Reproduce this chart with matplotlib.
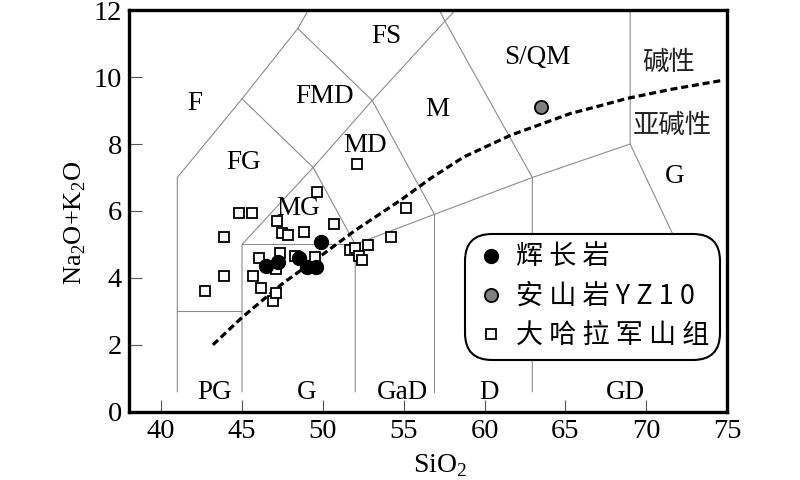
import matplotlib
matplotlib.use("Agg")
import matplotlib.pyplot as plt
from matplotlib.lines import Line2D

plt.rcParams['font.family'] = ['Liberation Serif', 'Noto Sans CJK SC', 'DejaVu Sans']
plt.rcParams['mathtext.fontset'] = 'custom'
plt.rcParams['mathtext.rm'] = 'Liberation Serif'

# 大哈拉军山组 samples (open squares)
daha_sio2 = [42.7, 43.9, 43.9, 44.8, 45.6, 45.7, 46.05, 46.2, 46.93, 47.08, 47.08, 47.14, 47.32, 47.5,
             47.82, 48.27, 48.83, 49.5, 49.63, 50.7, 51.7, 51.96, 52.13, 52.23, 52.43, 52.76, 54.2, 55.13]
daha_alk = [3.6, 4.07, 5.21, 5.94, 5.94, 4.07, 4.6, 3.7, 3.32, 3.55, 4.27, 5.69, 4.74, 5.33,
            5.27, 4.65, 5.37, 4.63, 6.56, 5.6, 4.83, 4.88, 7.4, 4.64, 4.53, 4.99, 5.22, 6.08]

# 辉长岩 (filled black circles)
gabbro_sio2 = [46.46, 47.22, 48.55, 49.0, 49.57, 49.86]
gabbro_alk = [4.37, 4.49, 4.6, 4.33, 4.34, 5.08]

# 安山岩 YZ10
andesite_sio2 = [63.5]
andesite_alk = [9.1]

# alkaline / subalkaline divide (dashed)
divide_sio2 = [43.2, 45.0, 47.5, 49.65, 52.0, 54.8, 56.65, 58.7, 61.6, 65.3, 67.2, 68.8, 71.5, 74.7]
divide_alk = [2.0, 2.82, 3.83, 4.58, 5.42, 6.32, 6.97, 7.61, 8.26, 8.91, 9.15, 9.36, 9.63, 9.9]

# field boundaries, each a polyline of (SiO2, Na2O+K2O)
boundaries = [
    [(41, 0.6), (41, 7), (45, 9.35), (48.45, 11.45), (49.1, 12)],
    [(45, 9.35), (49.4, 7.3), (52, 5)],
    [(48.45, 11.45), (53.05, 9.3), (56.9, 5.9)],
    [(49.4, 7.3), (53.05, 9.3), (57.55, 11.67), (58.2, 12)],
    [(45, 0.6), (45, 5), (49.4, 7.3)],
    [(45, 5), (52, 5)],
    [(41, 3), (45, 3)],
    [(52, 0.6), (52, 5), (56.9, 5.9), (62.95, 7.0), (69, 8), (69, 12)],
    [(56.9, 0.6), (56.9, 5.9)],
    [(62.95, 0.6), (62.95, 7.0), (57.55, 11.67), (57.2, 12)],
    [(69, 8), (73.5, 3.4)],
]

field_names = ['F', 'FS', 'FMD', 'M', 'FG', 'MD', 'MG', 'S/QM', 'G',
               'PG', 'G', 'GaD', 'D', 'GD']
field_x = [42.1, 53.9, 50.1, 57.1, 45.1, 52.6, 48.5, 63.25, 71.75,
           43.3, 49.0, 54.95, 60.3, 68.7]
field_y = [9.2, 11.2, 9.42, 9.04, 7.46, 7.96, 6.07, 10.58, 7.04,
           0.57, 0.57, 0.57, 0.57, 0.57]

series_names = ['碱性', '亚碱性']
series_x = [71.4, 71.6]
series_y = [10.45, 8.56]

fig = plt.figure(figsize=(8, 4.8), dpi=100)
ax = fig.add_axes([0.161, 0.142, 0.748, 0.837])

for seg in boundaries:
    xs = [p[0] for p in seg]
    ys = [p[1] for p in seg]
    ax.plot(xs, ys, color='#8c8c8c', lw=0.8, zorder=1)

ax.plot(divide_sio2, divide_alk, color='black', lw=2.3, dashes=(2.2, 1.2), zorder=2)

for name, x, y in zip(field_names, field_x, field_y):
    ax.text(x, y, name, ha='center', va='center', fontsize=19.5, zorder=3)
for name, x, y in zip(series_names, series_x, series_y):
    ax.text(x, y, name, ha='center', va='center', fontsize=19,
            family=['Noto Sans CJK SC', 'DejaVu Sans'], color='#222222', zorder=3)

ax.plot(daha_sio2, daha_alk, 's', ms=7.5, mfc='white', mec='black', mew=1.3, ls='none', zorder=4)
ax.plot(gabbro_sio2, gabbro_alk, 'o', ms=10, mfc='black', mec='black', ls='none', zorder=5)
ax.plot(andesite_sio2, andesite_alk, 'o', ms=9.5, mfc='#808080', mec='black', mew=1.3, ls='none', zorder=5)

ax.set_xlim(38, 75)
ax.set_ylim(0, 12)
ax.set_xticks(range(40, 76, 5))
ax.set_yticks(range(0, 13, 2))
ax.tick_params(direction='in', length=9, width=0.8, labelsize=20.5, pad=5, color='#555555')
for sp in ax.spines.values():
    sp.set_linewidth(2.4)
ax.set_xlabel(r'SiO$_\mathrm{2}$', fontsize=20, labelpad=0)
ax.xaxis.set_label_coords(0.52, -0.1)
ax.set_ylabel(r'Na$_\mathrm{2}$O+K$_\mathrm{2}$O', fontsize=19, labelpad=6)
ax.yaxis.set_label_coords(-0.068, 0.47)

handles = [
    Line2D([], [], marker='o', ls='none', ms=10, mfc='black', mec='black'),
    Line2D([], [], marker='o', ls='none', ms=9.5, mfc='#808080', mec='black', mew=1.3),
    Line2D([], [], marker='s', ls='none', ms=7.5, mfc='white', mec='black', mew=1.3),
]
labels = ['辉 长 岩', '安 山 岩 Y Z 1 0', '大 哈 拉 军 山 组']
leg = ax.legend(handles, labels, loc='lower left', bbox_to_anchor=(0.562, 0.129),
                borderaxespad=0, fancybox=True, framealpha=1, edgecolor='black',
                prop={'family': ['Noto Sans CJK SC', 'DejaVu Sans'], 'size': 19.5},
                handletextpad=0.38, labelspacing=0.44, borderpad=0.4, handlelength=1.1)
leg.get_frame().set_linewidth(1.5)
leg.get_frame().set_boxstyle('round', pad=0, rounding_size=1.0)
leg.set_zorder(10)

fig.savefig('out.png', dpi=100)
